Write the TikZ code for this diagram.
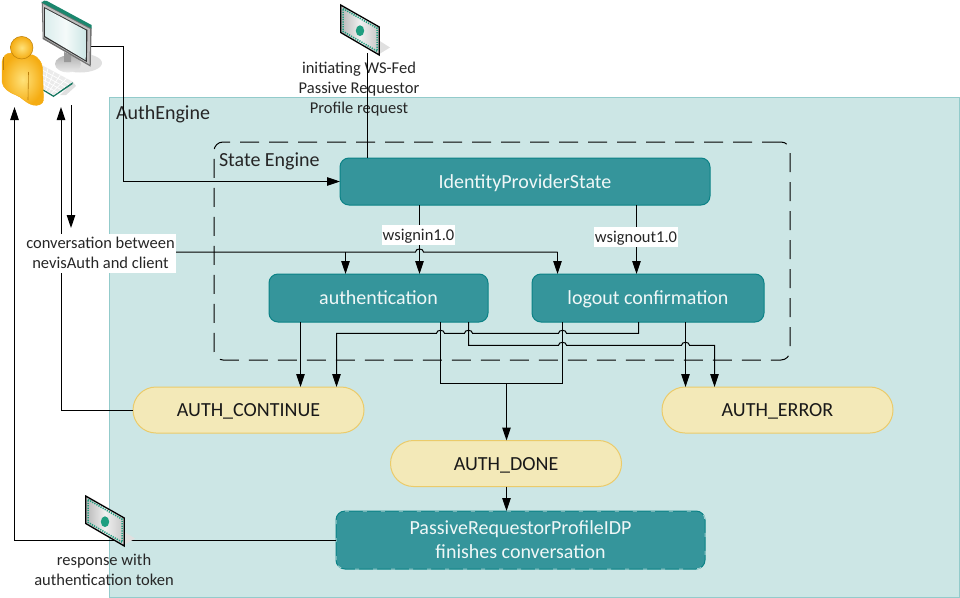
\documentclass[tikz,border=0pt]{standalone}
\usepackage{fontspec}
\setmainfont{Carlito}
\usetikzlibrary{arrows.meta,calc}
\definecolor{bgfill}{HTML}{CCE6E5}
\definecolor{bgline}{HTML}{93CBCB}
\definecolor{tealfill}{HTML}{35959B}
\definecolor{tealline}{HTML}{0B8286}
\definecolor{pillfill}{HTML}{F3E9B8}
\definecolor{pillline}{HTML}{EBCB6A}
\definecolor{inktext}{HTML}{262626}
\definecolor{docgreen}{HTML}{1F9E80}
\definecolor{goldin}{HTML}{FFE27A}
\definecolor{goldout}{HTML}{F5AC12}
\definecolor{goldline}{HTML}{B97E0C}
\tikzset{
  plainlabel/.style={inner sep=0pt,outer sep=0pt,text=inktext,align=center,font=\fontsize{16.5}{20}\selectfont},
  whitelabel/.style={plainlabel,fill=white},
  tealbox/.style={draw=tealline,fill=tealfill,line width=1pt,rounded corners=9pt,inner sep=0pt,outer sep=0pt,text=white!92!tealfill,align=center,font=\fontsize{20}{24}\selectfont},
  pillbox/.style={draw=pillline,fill=pillfill,line width=1pt,rounded corners=23pt,inner sep=0pt,outer sep=0pt,text=black!90,font=\fontsize{20}{24}\selectfont,minimum width=231pt,minimum height=46pt,text height=16pt,text depth=3pt},
  conn/.style={draw=black,line width=1pt},
  arr/.style={conn,-{Triangle[length=13pt,width=8.5pt]}},
}
\newcommand{\jumpH}[2]{-- ({#1+4},#2) .. controls ({#1+4},{#2-4}) and ({#1-4},{#2-4}) .. ({#1-4},#2)}
\newcommand{\jumpR}[2]{-- ({#1-4},#2) .. controls ({#1-4},{#2-4}) and ({#1+4},{#2-4}) .. ({#1+4},#2)}
\newcommand{\docicon}[2]{%
  \begin{scope}[shift={(#1,#2)}]
    \fill[black!12] (38.6,35.7) -- (49.3,42.5) -- (38.6,49) -- cycle;
    \shade[left color=black!28,right color=black!22,middle color=black!6]
      (0,0) -- (38.6,22) -- (38.6,50) -- (0,27.5) -- cycle;
    \draw[docgreen,line width=1.6pt,dash pattern=on 1.2pt off 1.2pt]
      (2.4,3.6) -- (36.4,23.2) -- (36.4,46.2) -- (2.4,26.4) -- cycle;
    \draw[black,line width=1.3pt] (0,0) -- (38.6,22) -- (38.6,50) -- (0,27.5) -- cycle;
    \fill[docgreen] (19.3,25.7) ellipse [x radius=4.2,y radius=5.4];
  \end{scope}}
\begin{document}
\begin{tikzpicture}[x=1pt,y=-1pt]
\useasboundingbox (0,0) rectangle (960,597);
% AuthEngine area and state engine frame
\node[draw=bgline,fill=bgfill,line width=1pt,minimum width=850pt,minimum height=500pt,inner sep=0pt,outer sep=0pt] (engine) at (534,347) {};
\node[draw=black,line width=1pt,dash pattern=on 19pt off 10pt,rounded corners=9pt,minimum width=576pt,minimum height=218pt,inner sep=0pt,outer sep=0pt] (state) at (502,251) {};
\node[plainlabel,anchor=west,font=\fontsize{20}{22}\selectfont] (enginelabel) at (116,114) {AuthEngine};
\node[plainlabel,anchor=west,font=\fontsize{20}{22}\selectfont] (statelabel) at (219,161) {State Engine};
% Nodes
\node[tealbox,minimum width=370pt,minimum height=47pt,text height=16pt,text depth=3pt] (idp) at (525,181.5) {IdentityProviderState};
\node[tealbox,minimum width=219pt,minimum height=48pt,text height=16pt,text depth=3pt] (auth) at (378.5,298) {authentication};
\node[tealbox,minimum width=232pt,minimum height=48pt,text height=16pt,text depth=3pt] (logout) at (648,298) {logout confirmation};
\node[pillbox] (acont) at (248.5,410) {AUTH\_CONTINUE};
\node[pillbox] (aerror) at (777.5,410) {AUTH\_ERROR};
\node[pillbox] (adone) at (506,463.5) {AUTH\_DONE};
\node[tealbox,minimum width=369pt,minimum height=58pt] (finish) at (520.5,540) {PassiveRequestorProfileIDP\\finishes conversation};
\draw[bgfill!70!tealfill,line width=1pt,dash pattern=on 4pt off 14pt,rounded corners=9pt] (finish.south west) rectangle (finish.north east);
% Guide coordinates
\coordinate (x14) at (14.5,0);
\coordinate (x61) at (61,0);
\coordinate (x71) at (71,0);
\coordinate (x123) at (123,0);
\coordinate (x300) at (300.5,0);
\coordinate (x336) at (336.5,0);
\coordinate (x345) at (345.5,0);
\coordinate (x367) at (367,0);
\coordinate (x419) at (419.5,0);
\coordinate (x440) at (440.5,0);
\coordinate (x468) at (468.5,0);
\coordinate (x506) at (506.5,0);
\coordinate (x557) at (557.5,0);
\coordinate (x562) at (562.5,0);
\coordinate (x636) at (636.5,0);
\coordinate (x638) at (638.5,0);
\coordinate (x685) at (685.5,0);
\coordinate (x714) at (714.5,0);
\coordinate (monitorport) at (91,46.5);
\coordinate (usertipa) at (14.5,107);
\coordinate (usertipb) at (61,107);
\coordinate (keytail) at (71,105);
\coordinate (docportTop) at (367,53);
% Labels without fill lie under their connectors
\node[plainlabel] (initlabel) at (359,89.5) {initiating WS-Fed\\Passive Requestor\\Profile request};
\node[plainlabel] (resplabel) at (104,569.5) {response with\\authentication token};
% Connectors
\draw[arr] (monitorport) -- (monitorport -| x123) -- (idp.west -| x123) -- (idp.west);
\draw[conn] (docportTop) -- (idp.north -| x367);
\draw[arr] (acont.west) -- (acont.west -| x61) -- (usertipb);
\draw[arr,shorten >=5pt] (keytail) -- (keytail |- 0,233);
\draw[arr] (finish.west) -- (finish.west -| x14) -- (usertipa);
\draw[arr] (idp.south -| x419) -- (auth.north -| x419);
\draw[arr] (idp.south -| x636) -- (logout.north -| x636);
\draw[arr] (auth.south -| x300) -- (acont.north -| x300);
\draw[arr] (logout.south -| x685) -- (aerror.north -| x685);
\draw[conn] (100,252) -- (345.5,252) \jumpR{419.5}{252} -- (557.5,252);
\draw[arr] (345.5,252) -- (auth.north -| x345);
\draw[arr] (557.5,252) -- (logout.north -| x557);
\draw[arr] (logout.south -| x638) -- (638.5,333.3) \jumpH{562.5}{333.3} \jumpH{468.5}{333.3} \jumpH{440.5}{333.3} -- (336.5,333.3) -- (acont.north -| x336);
\draw[arr] (auth.south -| x468) -- (468.5,345.3) \jumpR{562.5}{345.3} \jumpR{685.5}{345.3} -- (714.5,345.3) -- (aerror.north -| x714);
\draw[conn] (auth.south -| x440) -- (440.5,383.3) -- (562.5,383.3) -- (logout.south -| x562);
\draw[arr] (506.5,383.3) -- (adone.north -| x506);
\draw[arr] (adone.south -| x506) -- (finish.north -| x506);
% Labels over connectors
\node[whitelabel,minimum width=151pt,minimum height=39pt] (convlabel) at (100.5,253) {conversation between\\nevisAuth and client};
\node[whitelabel,minimum width=73pt,minimum height=20pt,text height=13pt,text depth=3pt] (inlabel) at (418.5,235) {wsignin1.0};
\node[whitelabel,minimum width=84pt,minimum height=20pt,text height=13pt,text depth=3pt] (outlabel) at (636,237) {wsignout1.0};
% Message icons
\docicon{340.7}{5}
\docicon{85.7}{496}
% Monitor
\fill[black!12] (80,63) ellipse [x radius=22,y radius=9.5];
\shade[top color=black!30,bottom color=black!8] (68,64) ellipse [x radius=13,y radius=8.5];
\fill[black!40] (64,52) -- (71,55) -- (71,62) -- (64,62) -- cycle;
\fill[black!55] (41.7,1.7) -- (91.7,28) -- (90.7,66.7) -- (42.7,39) -- cycle;
\fill[black!25] (43,4) -- (90,29) -- (89.6,64.5) -- (43.5,37.5) -- cycle;
\fill[black!80] (44,7) -- (87.5,30) -- (86.8,62) -- (44,37) -- cycle;
\shade[left color=bgfill!70!white,right color=bgfill,middle color=white!80!bgfill] (45,8.5) -- (86.2,30.5) -- (85.7,60.2) -- (45,36) -- cycle;
\fill[docgreen!85!black] (41.7,2.5) .. controls (43,0.5) and (45,0) .. (47,1) -- (91.5,25) -- (91.7,28.5) -- cycle;
% Keyboard
\fill[black!12] (60,95) -- (73,82) -- (76,86) -- (66,95) -- cycle;
\fill[docgreen!75!black] (53.5,95.5) -- (72.7,82) -- (72.7,84) -- (53.5,97) -- (42,90) -- (42,88) -- cycle;
\fill[black!8] (41.7,65) -- (72.7,81.7) -- (53.5,95) -- (41,88) -- cycle;
\foreach \t in {0.2,0.4,0.6,0.8}{
  \draw[white,line width=.7pt] ($(41.7,65)!\t!(72.7,81.7)$) -- ($(41,88)!\t!(53.5,95)$);
  \draw[white,line width=.7pt] ($(41.7,65)!\t!(41,88)$) -- ($(72.7,81.7)!\t!(53.5,95)$);
}
% Person
\shade[inner color=goldin,outer color=goldout,draw=goldout,line width=.4pt]
  (2,62) .. controls (3,56) and (6,53) .. (11,53) -- (33,55) .. controls (38,57) and (42,62) .. (42.5,68)
  -- (43.5,100) .. controls (43,105) and (37,106) .. (33,105) .. controls (25,103) and (22,97) .. (16,95)
  .. controls (8,92) and (3,88) .. (2,82) -- cycle;
\shade[inner color=goldin,outer color=goldout,draw=goldline,line width=.5pt] (21.7,47.7) circle [radius=11.3];
\draw[goldline,line width=.6pt] (28.5,72) -- (28,100);
\draw[goldline,line width=.6pt] (3.5,57) -- (3.5,70);
\end{tikzpicture}
\end{document}
